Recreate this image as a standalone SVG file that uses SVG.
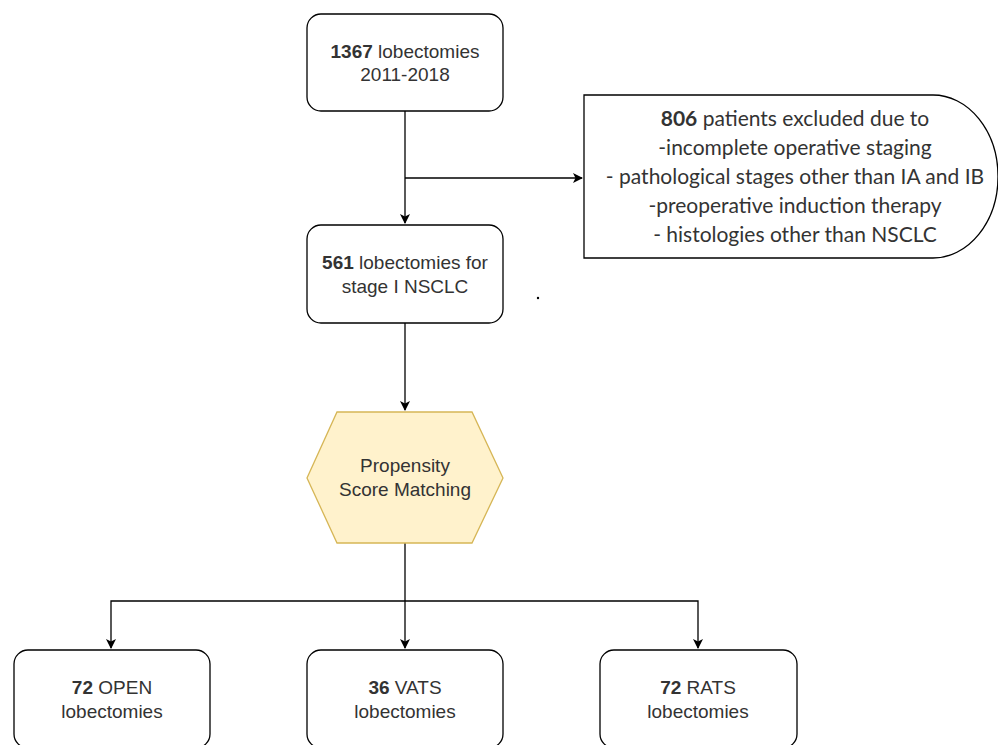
<svg xmlns="http://www.w3.org/2000/svg" width="998" height="745" viewBox="0 0 998 745">
<defs>
<marker id="arr" viewBox="0 0 10 10" refX="9" refY="5" markerWidth="10" markerHeight="10" markerUnits="userSpaceOnUse" orient="auto">
<path d="M0,0 L10,5 L0,10 L2.5,5 Z" fill="#000"/>
</marker>
<style>
.box{fill:#fff;stroke:#000;stroke-width:1.3}
.t{font-family:"Liberation Sans",Arial,sans-serif;font-size:19px;fill:#333;text-anchor:middle}
.c{font-family:Lato,"Open Sans",sans-serif;font-size:21px;fill:#333;text-anchor:middle}
.b{font-weight:bold}
.ln{fill:none;stroke:#000;stroke-width:1.3}
</style>
</defs>
<rect width="998" height="745" fill="#fff"/>
<g id="connectors">
<path class="ln" d="M405,111 V223" marker-end="url(#arr)"/>
<path class="ln" d="M405,178 H582" marker-end="url(#arr)"/>
<path class="ln" d="M405,323 V410" marker-end="url(#arr)"/>
<path class="ln" d="M405,543 V648" marker-end="url(#arr)"/>
<path class="ln" d="M405,601 H111 V648" marker-end="url(#arr)"/>
<path class="ln" d="M405,601 H698 V648" marker-end="url(#arr)"/>
</g>
<g id="n1">
<rect class="box" x="307" y="14" width="196" height="97" rx="14"/>
<text class="t" x="405" y="58"><tspan class="b">1367</tspan> lobectomies</text>
<text class="t" x="405" y="81">2011-2018</text>
</g>
<g id="excluded">
<path class="box" d="M584,95 H933 A65,81.5 0 0 1 933,258 H584 Z"/>
<text class="c" x="795" y="126"><tspan class="b">806</tspan> patients excluded due to</text>
<text class="c" x="795" y="155">-incomplete operative staging</text>
<text class="c" x="795" y="184">- pathological stages other than IA and IB</text>
<text class="c" x="795" y="213">-preoperative induction therapy</text>
<text class="c" x="795" y="242">- histologies other than NSCLC</text>
</g>
<g id="n2">
<rect class="box" x="307" y="225" width="196" height="98" rx="14"/>
<text class="t" x="405" y="269"><tspan class="b">561</tspan> lobectomies for</text>
<text class="t" x="405" y="293">stage I NSCLC</text>
</g>
<circle cx="538" cy="298" r="1.2" fill="#000"/>
<g id="psm">
<polygon points="337,412 472,412 503,478 472,543 337,543 307,478" fill="#fff2cc" stroke="#d6b656" stroke-width="1.3"/>
<text class="t" x="405" y="472">Propensity</text>
<text class="t" x="405" y="496">Score Matching</text>
</g>
<g id="open">
<rect class="box" x="14" y="650" width="196" height="98" rx="14"/>
<text class="t" x="112" y="694"><tspan class="b">72</tspan> OPEN</text>
<text class="t" x="112" y="718">lobectomies</text>
</g>
<g id="vats">
<rect class="box" x="307" y="650" width="196" height="98" rx="14"/>
<text class="t" x="405" y="694"><tspan class="b">36</tspan> VATS</text>
<text class="t" x="405" y="718">lobectomies</text>
</g>
<g id="rats">
<rect class="box" x="600" y="650" width="197" height="98" rx="14"/>
<text class="t" x="698" y="694"><tspan class="b">72</tspan> RATS</text>
<text class="t" x="698" y="718">lobectomies</text>
</g>
</svg>
